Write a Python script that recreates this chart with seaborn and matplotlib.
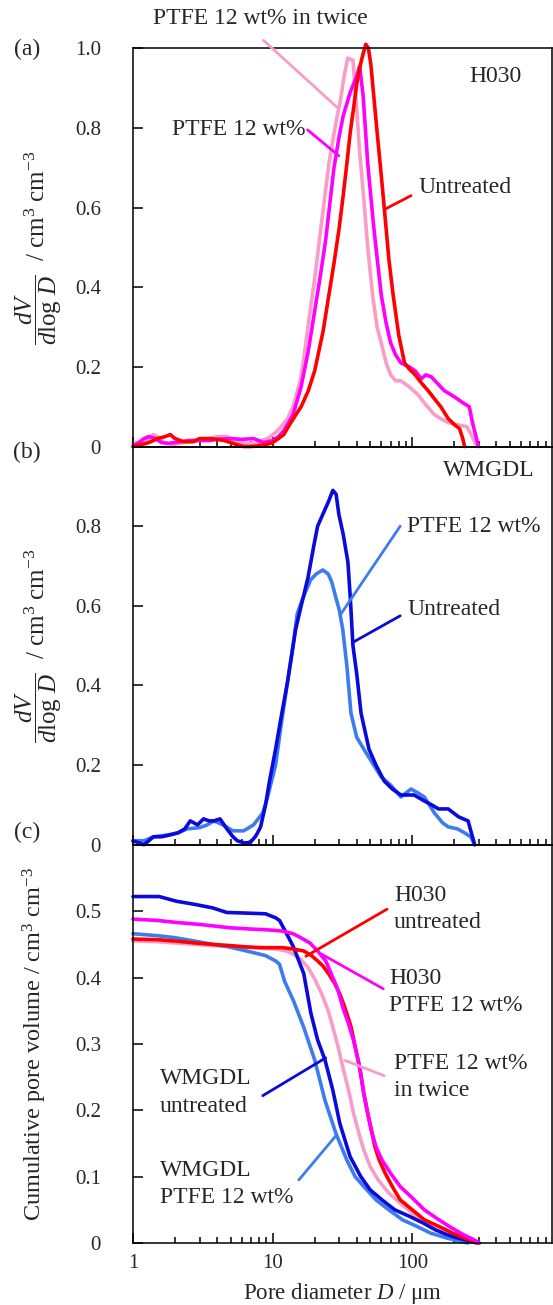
import matplotlib
matplotlib.use("Agg")
import matplotlib.pyplot as plt
import seaborn as sns
from matplotlib.ticker import LogLocator, NullFormatter

sns.set_theme(style="ticks")
plt.rcParams["font.family"] = ["Liberation Serif", "DejaVu Serif"]
plt.rcParams["mathtext.fontset"] = "custom"
plt.rcParams["mathtext.rm"] = "Liberation Serif"
plt.rcParams["mathtext.it"] = "Liberation Serif:italic"
plt.rcParams["axes.edgecolor"] = "black"
plt.rcParams["axes.linewidth"] = 1.1

# ---- (a) H030 pore size distribution, dV/dlogD ----
a_untreated_d = [1.0, 1.15, 1.3, 1.5, 1.7, 1.85, 2.0, 2.3, 2.7, 3.0,
                 3.5, 4.0, 4.5, 5.0, 5.5, 6.2, 7.0, 8.0, 9.0, 10,
                 11, 12, 13.5, 15, 16, 18, 20, 23, 25, 27.5,
                 30, 32, 34, 36, 38, 40, 42, 44, 46.5, 48.5,
                 50.5, 53, 56, 60, 63, 68, 73, 80, 88, 95,
                 105, 116, 130, 144, 160, 181, 200, 218, 230, 237]
a_untreated_v = [0.0, 0.005, 0.01, 0.02, 0.025, 0.03, 0.02, 0.012, 0.012, 0.02,
                 0.02, 0.018, 0.015, 0.01, 0.005, 0.0, 0.0, 0.002, 0.005, 0.01,
                 0.02, 0.03, 0.06, 0.085, 0.10, 0.14, 0.19, 0.29, 0.37, 0.46,
                 0.55, 0.63, 0.71, 0.79, 0.85, 0.91, 0.95, 0.98, 1.01, 1.0,
                 0.96, 0.88, 0.79, 0.68, 0.60, 0.47, 0.38, 0.28, 0.21, 0.195,
                 0.18, 0.16, 0.14, 0.12, 0.10, 0.07, 0.055, 0.045, 0.02, 0.0]

a_ptfe_d = [1.0, 1.1, 1.2, 1.3, 1.45, 1.6, 1.8, 2.0, 2.5, 3.0,
            3.5, 4.0, 5.0, 6.0, 7.3, 8.6, 10, 11, 12, 13,
            14, 16, 18, 20, 22, 24, 27.5, 30, 32, 36,
            40, 42, 44.5, 48, 53, 60, 65, 70, 76, 83,
            95, 105, 116, 125, 137, 150, 170, 200, 230, 256,
            270, 298]
a_ptfe_v = [0.0, 0.01, 0.02, 0.025, 0.02, 0.01, 0.008, 0.01, 0.015, 0.015,
            0.015, 0.018, 0.02, 0.018, 0.02, 0.01, 0.015, 0.025, 0.04, 0.06,
            0.08, 0.15, 0.24, 0.34, 0.43, 0.52, 0.70, 0.78, 0.83, 0.89,
            0.93, 0.955, 0.88, 0.71, 0.55, 0.38, 0.31, 0.26, 0.23, 0.21,
            0.20, 0.19, 0.17, 0.18, 0.175, 0.16, 0.14, 0.125, 0.11, 0.10,
            0.06, 0.0]

a_twice_d = [1.0, 1.15, 1.3, 1.4, 1.5, 1.65, 1.9, 2.2, 2.5, 3.0,
             3.5, 4.0, 4.7, 5.3, 6.0, 6.6, 7.5, 8.3, 9.2, 10.5,
             11.5, 12.8, 14, 15.9, 17, 18.7, 20, 22, 25.3, 27,
             29, 30.6, 32.5, 34.5, 37.6, 39.6, 42, 45, 48, 52,
             56, 60, 65, 70, 76, 83, 95, 110, 125, 144,
             160, 181, 210, 245, 265, 290]
a_twice_v = [0.01, 0.01, 0.02, 0.03, 0.025, 0.01, 0.005, 0.008, 0.015, 0.015,
             0.02, 0.025, 0.025, 0.015, 0.01, 0.008, 0.008, 0.015, 0.02, 0.035,
             0.05, 0.07, 0.10, 0.17, 0.24, 0.35, 0.42, 0.54, 0.71, 0.77,
             0.83, 0.87, 0.93, 0.975, 0.97, 0.87, 0.74, 0.62, 0.50, 0.38,
             0.30, 0.26, 0.21, 0.18, 0.165, 0.165, 0.15, 0.13, 0.105, 0.08,
             0.07, 0.06, 0.055, 0.05, 0.03, 0.0]

# ---- (b) WMGDL pore size distribution ----
b_untreated_d = [1.0, 1.1, 1.2, 1.4, 1.6, 1.85, 2.1, 2.35, 2.57, 2.9,
                 3.2, 3.5, 3.8, 4.2, 4.7, 5.2, 5.6, 6.2, 6.6, 7.0,
                 7.5, 7.8, 8.2, 8.9, 9.5, 10.5, 11.5, 12.8, 14.6, 16,
                 17.9, 19.7, 21, 22.9, 25, 27, 28.5, 29.8, 32, 34.6,
                 36, 37.6, 40, 43, 49, 55, 63, 72, 83, 103,
                 122, 138, 154, 181, 215, 251, 265, 280]
b_untreated_v = [0.01, 0.005, 0.0, 0.02, 0.02, 0.025, 0.03, 0.04, 0.06, 0.05,
                 0.065, 0.06, 0.06, 0.065, 0.04, 0.02, 0.01, 0.005, 0.005, 0.008,
                 0.02, 0.03, 0.045, 0.10, 0.16, 0.24, 0.32, 0.41, 0.54, 0.60,
                 0.67, 0.75, 0.80, 0.83, 0.86, 0.89, 0.88, 0.83, 0.78, 0.71,
                 0.62, 0.50, 0.43, 0.33, 0.24, 0.20, 0.16, 0.14, 0.125, 0.125,
                 0.11, 0.10, 0.09, 0.09, 0.07, 0.06, 0.03, 0.0]

b_ptfe_d = [1.0, 1.2, 1.4, 1.8, 2.1, 2.45, 3.0, 3.4, 3.8, 4.4,
            5.2, 6.2, 7.3, 8.5, 9.2, 10.5, 11.5, 12.8, 14, 15,
            16.5, 18.7, 20.5, 22.9, 25, 26.5, 28.4, 30, 31.8, 34,
            36.4, 40, 45, 53, 60, 70, 83, 90, 98, 110,
            122, 144, 165, 181, 210, 237, 262, 280]
b_ptfe_v = [0.01, 0.01, 0.02, 0.025, 0.03, 0.04, 0.043, 0.05, 0.06, 0.05,
            0.035, 0.035, 0.05, 0.08, 0.12, 0.20, 0.30, 0.41, 0.50, 0.58,
            0.62, 0.665, 0.68, 0.69, 0.68, 0.66, 0.62, 0.59, 0.54, 0.45,
            0.33, 0.27, 0.24, 0.20, 0.17, 0.15, 0.12, 0.13, 0.14, 0.13,
            0.12, 0.08, 0.055, 0.045, 0.04, 0.03, 0.02, 0.0]

# ---- (c) cumulative pore volume ----
c_wm_untreated_d = [1.0, 1.54, 2.04, 2.8, 3.7, 4.7, 6.6, 8.9, 10.5, 11.2,
                    12.6, 14.1, 16.7, 18.8, 21, 23.7, 27, 30.3, 35.9, 42.8,
                    50, 60.7, 75, 96, 120, 146, 175, 207, 250, 292]
c_wm_untreated_v = [0.522, 0.522, 0.515, 0.51, 0.505, 0.498, 0.497, 0.496, 0.49, 0.486,
                    0.466, 0.446, 0.406, 0.346, 0.306, 0.276, 0.23, 0.18, 0.13, 0.10,
                    0.08, 0.065, 0.05, 0.04, 0.03, 0.02, 0.013, 0.008, 0.004, 0.0]

c_wm_ptfe_d = [1.0, 1.5, 2.0, 2.75, 3.7, 4.9, 6.5, 8.9, 10.5, 11.2,
               12.2, 14.1, 16.7, 20, 23.7, 28.4, 34, 39, 45, 55,
               68, 85, 108, 135, 180, 250]
c_wm_ptfe_v = [0.466, 0.463, 0.46, 0.455, 0.45, 0.446, 0.44, 0.433, 0.425, 0.42,
               0.394, 0.365, 0.325, 0.276, 0.215, 0.165, 0.125, 0.10, 0.085, 0.065,
               0.05, 0.035, 0.025, 0.015, 0.007, 0.0]

c_h_untreated_d = [1.0, 1.5, 2.0, 2.8, 3.7, 5.0, 6.6, 8.5, 11.8, 14,
                   16.7, 19, 21, 23, 25.3, 28, 30.3, 32.5, 34.7, 36.5,
                   38.2, 40.5, 42.8, 45, 48, 51, 54, 58, 64, 72,
                   82, 100, 122, 155, 194, 240, 300]
c_h_untreated_v = [0.458, 0.457, 0.455, 0.452, 0.45, 0.448, 0.446, 0.445, 0.445, 0.443,
                   0.44, 0.433, 0.425, 0.417, 0.405, 0.39, 0.375, 0.358, 0.34, 0.325,
                   0.305, 0.28, 0.255, 0.225, 0.195, 0.17, 0.145, 0.125, 0.105, 0.085,
                   0.065, 0.05, 0.035, 0.025, 0.015, 0.007, 0.0]

c_h_ptfe_d = [1.0, 1.5, 2.04, 3.0, 4.9, 7.0, 9.0, 11.8, 14, 15.9,
              18.5, 21, 24, 27, 29.5, 31.8, 35, 38, 41.5, 45,
              48, 50.8, 55, 60.7, 70, 82, 100, 122, 150, 184,
              230, 270, 303]
c_h_ptfe_v = [0.488, 0.486, 0.483, 0.48, 0.475, 0.473, 0.472, 0.47, 0.466, 0.46,
              0.452, 0.44, 0.425, 0.40, 0.38, 0.355, 0.33, 0.305, 0.27, 0.225,
              0.195, 0.17, 0.145, 0.125, 0.105, 0.085, 0.068, 0.05, 0.037, 0.025,
              0.013, 0.006, 0.0]

c_h_twice_d = [1.0, 1.5, 2.0, 2.8, 3.7, 5.0, 7.0, 10.5, 12.5, 14.1,
               16, 17.9, 20, 22.5, 25, 27, 29.5, 31.8, 35, 38,
               41.5, 45, 50, 57, 68, 82, 100, 122, 155, 194,
               240, 285]
c_h_twice_v = [0.455, 0.454, 0.452, 0.45, 0.448, 0.447, 0.445, 0.443, 0.44, 0.435,
               0.427, 0.415, 0.398, 0.375, 0.35, 0.325, 0.295, 0.265, 0.23, 0.195,
               0.165, 0.14, 0.115, 0.095, 0.075, 0.06, 0.045, 0.03, 0.018, 0.01,
               0.004, 0.0]

RED = "#ff0000"
MAGENTA = "#ff00ff"
PINK = "#f99cc8"
DBLUE = "#0a0adc"
LBLUE = "#3d7cf0"
LW = 2.6
FS = 17

fig, axes = plt.subplots(3, 1, figsize=(5.53, 13.05), dpi=100)
fig.subplots_adjust(left=0.2405, right=0.998, top=0.963, bottom=0.0475, hspace=0)
ax_a, ax_b, ax_c = axes

for ax in axes:
    ax.set_xscale("log")
    ax.set_xlim(1, 1000)
    ax.set_facecolor("none")


def draw(ax, d, v, color):
    sns.lineplot(x=d, y=v, ax=ax, color=color, lw=LW, estimator=None,
                 sort=False, clip_on=False)


def leader(ax, start, end, color):
    ax.annotate("", xy=end, xytext=start,
                arrowprops=dict(arrowstyle="-", color=color, lw=2.0,
                                shrinkA=0, shrinkB=0))


# panel a
draw(ax_a, a_twice_d, a_twice_v, PINK)
draw(ax_a, a_ptfe_d, a_ptfe_v, MAGENTA)
draw(ax_a, a_untreated_d, a_untreated_v, RED)
ax_a.set_ylim(0, 1.0)
ax_a.set_yticks([0, 0.2, 0.4, 0.6, 0.8, 1.0])
ax_a.set_yticklabels(["0", "0.2", "0.4", "0.6", "0.8", "1.0"])
ax_a.text(610, 0.93, "H030", ha="right", va="center", fontsize=FS)
ax_a.text(8.2, 1.075, "PTFE 12 wt% in twice", ha="center", va="center", fontsize=FS)
leader(ax_a, (8.6, 1.02), (29.3, 0.85), PINK)
ax_a.text(17.3, 0.795, "PTFE 12 wt%", ha="right", va="center", fontsize=FS)
leader(ax_a, (17.8, 0.795), (29.8, 0.73), MAGENTA)
ax_a.text(110, 0.65, "Untreated", ha="left", va="center", fontsize=FS)
leader(ax_a, (98, 0.63), (63, 0.595), RED)

# panel b
draw(ax_b, b_ptfe_d, b_ptfe_v, LBLUE)
draw(ax_b, b_untreated_d, b_untreated_v, DBLUE)
ax_b.set_ylim(0, 1.0)
ax_b.set_yticks([0, 0.2, 0.4, 0.6, 0.8])
ax_b.set_yticklabels(["0", "0.2", "0.4", "0.6", "0.8"])
ax_b.text(755, 0.94, "WMGDL", ha="right", va="center", fontsize=FS)
ax_b.text(92, 0.80, "PTFE 12 wt%", ha="left", va="center", fontsize=FS)
leader(ax_b, (82, 0.80), (30.9, 0.58), LBLUE)
ax_b.text(92, 0.59, "Untreated", ha="left", va="center", fontsize=FS)
leader(ax_b, (82, 0.575), (38.3, 0.51), DBLUE)

# panel c
draw(ax_c, c_h_twice_d, c_h_twice_v, PINK)
draw(ax_c, c_wm_ptfe_d, c_wm_ptfe_v, LBLUE)
draw(ax_c, c_wm_untreated_d, c_wm_untreated_v, DBLUE)
draw(ax_c, c_h_untreated_d, c_h_untreated_v, RED)
draw(ax_c, c_h_ptfe_d, c_h_ptfe_v, MAGENTA)
ax_c.set_ylim(0, 0.6)
ax_c.set_yticks([0, 0.1, 0.2, 0.3, 0.4, 0.5])
ax_c.set_yticklabels(["0", "0.1", "0.2", "0.3", "0.4", "0.5"])
ax_c.text(74, 0.503, "H030\nuntreated", ha="left", va="center", fontsize=FS, linespacing=1.4)
leader(ax_c, (66, 0.503), (17.3, 0.432), RED)
ax_c.text(68.5, 0.378, "H030\nPTFE 12 wt%", ha="left", va="center", fontsize=FS, linespacing=1.4)
leader(ax_c, (62, 0.383), (22.5, 0.435), MAGENTA)
ax_c.text(74, 0.25, "PTFE 12 wt%\nin twice", ha="left", va="center", fontsize=FS, linespacing=1.4)
leader(ax_c, (63, 0.252), (33, 0.275), PINK)
ax_c.text(1.56, 0.227, "WMGDL\nuntreated", ha="left", va="center", fontsize=FS, linespacing=1.4)
leader(ax_c, (8.5, 0.222), (24, 0.279), DBLUE)
ax_c.text(1.56, 0.089, "WMGDL\nPTFE 12 wt%", ha="left", va="center", fontsize=FS, linespacing=1.4)
leader(ax_c, (15.4, 0.095), (28.5, 0.162), LBLUE)

# axes styling
for ax in axes:
    ax.set_xticks([1, 10, 100])
    ax.xaxis.set_minor_locator(LogLocator(base=10, subs=range(2, 10), numticks=20))
    ax.xaxis.set_minor_formatter(NullFormatter())
    ax.tick_params(axis="both", which="both", direction="in", top=False, right=False,
                   color="black", width=1.1)
    ax.tick_params(axis="both", which="major", length=7, labelsize=15)
    ax.tick_params(axis="x", which="minor", length=4.5)
    ax.tick_params(axis="y", pad=23)
    ax.tick_params(axis="x", pad=8)
    for s in ax.spines.values():
        s.set_visible(True)
        s.set_color("black")
        s.set_linewidth(1.1)

ax_a.set_xticklabels([])
ax_b.set_xticklabels([])
ax_c.set_xticklabels(["1", "10", "100"])
ax_c.set_xlabel("Pore diameter $D$ / μm", fontsize=16.5, labelpad=6)

frac_label = r"$\dfrac{dV}{d\mathrm{log}\ D}$  / cm$^3$ cm$^{-3}$"
ax_a.set_ylabel(frac_label, fontsize=18)
ax_b.set_ylabel(frac_label, fontsize=18)
ax_c.set_ylabel("Cumulative pore volume / cm$^3$ cm$^{-3}$", fontsize=17.5)
# label anchor is the right edge of the rotated text
ax_a.yaxis.set_label_coords(-0.165, 0.5)
ax_b.yaxis.set_label_coords(-0.165, 0.5)
ax_c.yaxis.set_label_coords(-0.2, 0.5)

fig.text(27 / 553, 0.962, "(a)", ha="center", va="center", fontsize=FS)
fig.text(27 / 553, 0.653, "(b)", ha="center", va="center", fontsize=FS)
fig.text(27 / 553, 0.362, "(c)", ha="center", va="center", fontsize=FS)

fig.savefig("out.png", dpi=100)
